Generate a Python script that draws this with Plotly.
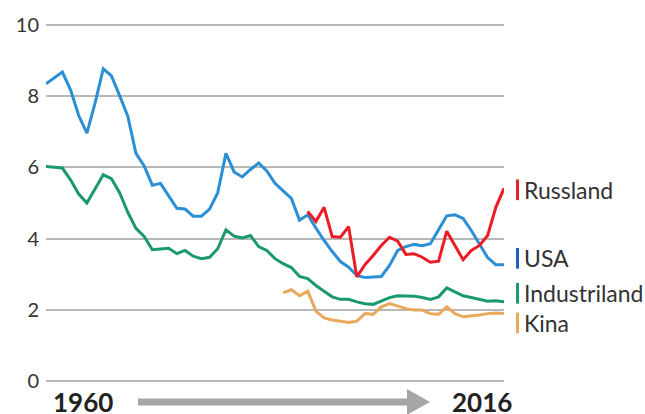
import plotly.graph_objects as go

years = list(range(1960, 2017))

usa = [8.34, 8.51, 8.67, 8.17, 7.45, 6.96, 7.80, 8.76, 8.56, 8.01,
       7.43, 6.39, 6.04, 5.50, 5.55, 5.20, 4.85, 4.83, 4.63, 4.63,
       4.83, 5.29, 6.39, 5.87, 5.73, 5.94, 6.12, 5.90, 5.55, 5.34,
       5.13, 4.52, 4.67, 4.30, 3.95, 3.64, 3.36, 3.20, 2.97, 2.91,
       2.93, 2.94, 3.25, 3.67, 3.78, 3.84, 3.80, 3.86, 4.25, 4.64,
       4.67, 4.57, 4.23, 3.84, 3.47, 3.27, 3.27]

industriland = [6.02, 5.99, 5.98, 5.65, 5.25, 5.00, 5.39, 5.79, 5.68, 5.29,
                4.74, 4.29, 4.06, 3.69, 3.71, 3.73, 3.58, 3.67, 3.51, 3.44,
                3.48, 3.72, 4.25, 4.07, 4.02, 4.09, 3.78, 3.67, 3.44, 3.30,
                3.19, 2.94, 2.88, 2.69, 2.53, 2.37, 2.30, 2.30, 2.23, 2.18,
                2.16, 2.25, 2.35, 2.40, 2.39, 2.39, 2.35, 2.30, 2.37, 2.62,
                2.51, 2.40, 2.35, 2.30, 2.25, 2.26, 2.23]

russland_years = list(range(1992, 2017))
russland = [4.76, 4.48, 4.88, 4.06, 4.04, 4.34, 2.93, 3.27, 3.53, 3.81,
            4.04, 3.93, 3.56, 3.58, 3.48, 3.34, 3.37, 4.21, 3.81, 3.41,
            3.67, 3.81, 4.09, 4.88, 5.41]

kina_years = list(range(1989, 2017))
kina = [2.49, 2.57, 2.40, 2.53, 1.97, 1.78, 1.72, 1.69, 1.65, 1.69,
        1.90, 1.88, 2.09, 2.18, 2.11, 2.04, 2.00, 2.00, 1.90, 1.88,
        2.09, 1.90, 1.81, 1.83, 1.86, 1.90, 1.92, 1.90]

y_ticks = [0, 2, 4, 6, 8, 10]
start_label = "1960"
end_label = "2016"

legend_names = ["Russland", "USA", "Industriland", "Kina"]
legend_y = [5.37, 3.45, 2.47, 1.64]

C_BLUE = "#2a8fd5"
C_GREEN = "#1a9a6c"
C_RED = "#ec1c24"
C_ORANGE = "#eaa85c"
legend_bar_colors = ["#e5232b", "#1f5fb8", "#1a9a6c", "#eaa85c"]

fig = go.Figure()
for xs, ys, col in [(years, industriland, C_GREEN), (kina_years, kina, C_ORANGE),
                    (years, usa, C_BLUE), (russland_years, russland, C_RED)]:
    fig.add_trace(go.Scatter(x=xs, y=ys, mode="lines",
                             line=dict(color=col, width=3), showlegend=False,
                             hoverinfo="skip"))

W, H = 645, 414
L, R, T, B = 46, 141, 19, 29
pw, ph = W - L - R, H - T - B

def px(X):
    return (X - L) / pw

def py(Y):
    return (H - B - Y) / ph

shapes = []
annotations = []

# legend labels with coloured bars
for name, yv, col in zip(legend_names, legend_y, legend_bar_colors):
    shapes.append(dict(type="line", xref="paper", yref="y",
                       x0=px(517.5), x1=px(517.5), y0=yv - 0.29, y1=yv + 0.29,
                       line=dict(color=col, width=3)))
    annotations.append(dict(xref="paper", yref="y", x=px(522), y=yv,
                            xanchor="left", yanchor="middle", text=name,
                            showarrow=False,
                            font=dict(family="Lato", size=23, color="#333333")))

# bottom arrow
bar_top, bar_bot = 398.5, 405.5
path = (f"M {px(138)},{py(bar_top)} L {px(407)},{py(bar_top)} "
        f"L {px(407)},{py(389)} L {px(430)},{py(402)} L {px(407)},{py(415)} "
        f"L {px(407)},{py(bar_bot)} L {px(138)},{py(bar_bot)} Z")
shapes.append(dict(type="path", xref="paper", yref="paper", path=path,
                   fillcolor="#a6a6a6", line=dict(width=0)))

annotations.append(dict(xref="paper", yref="paper", x=px(51), y=py(402),
                        xanchor="left", yanchor="middle",
                        text=f"<b>{start_label}</b>", showarrow=False,
                        font=dict(family="Lato", size=26, color="#222222")))
annotations.append(dict(xref="paper", yref="paper", x=px(514), y=py(402),
                        xanchor="right", yanchor="middle",
                        text=f"<b>{end_label}</b>", showarrow=False,
                        font=dict(family="Lato", size=26, color="#222222")))

fig.update_layout(
    width=W, height=H,
    margin=dict(l=L, r=R, t=T, b=B, pad=0),
    paper_bgcolor="white", plot_bgcolor="white",
    xaxis=dict(range=[1960, 2016], showgrid=False, zeroline=False,
               showticklabels=False, ticks="", showline=False),
    yaxis=dict(range=[-0.1, 10.1], tickvals=y_ticks,
               ticktext=[str(v) for v in y_ticks],
               showgrid=True, gridcolor="#b8b8b8", gridwidth=1.5,
               zeroline=True, zerolinecolor="#b8b8b8", zerolinewidth=1.5,
               showline=False, ticks="",
               ticklabelstandoff=6,
               tickfont=dict(family="Lato", size=20, color="#333333")),
    shapes=shapes, annotations=annotations,
)

fig.write_html("out.html", config={"displayModeBar": False},
               post_script="document.body.style.margin='0';")
